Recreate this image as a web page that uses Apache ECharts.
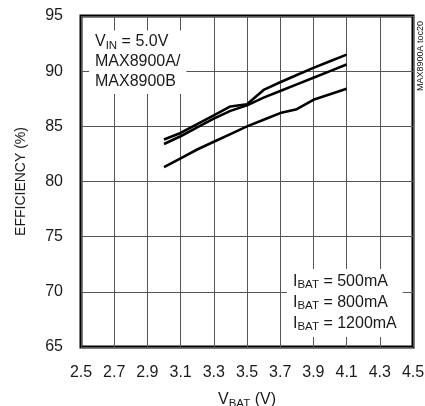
<!DOCTYPE html>
<html>
<head>
<meta charset="utf-8">
<script src="https://cdn.jsdelivr.net/npm/echarts@6/dist/echarts.min.js"></script>
<style>
  html, body { margin: 0; padding: 0; background: #fff; }
  #chart { width: 425px; height: 406px; }
</style>
</head>
<body>
<div id="chart"></div>
<script>
// battery voltage (V)
const vbat = [3.0, 3.1, 3.2, 3.3, 3.4, 3.5, 3.6, 3.7, 3.8, 3.9, 4.0, 4.1]
// efficiency (%) per charge current
const eff500 = [83.8, 84.4, 85.2, 86.0, 86.8, 87.0, 88.3, 89.0, 89.65, 90.3, 90.9, 91.5]
const eff800 = [83.4, 84.1, 84.9, 85.7, 86.4, 86.9, 87.6, 88.2, 88.8, 89.4, 90.0, 90.6]
const eff1200 = [81.3, 82.1, 82.9, 83.6, 84.3, 85.0, 85.6, 86.2, 86.55, 87.4, 87.9, 88.4]

const xTicks = { min: 2.5, max: 4.5, step: 0.2 }
const yTicks = { min: 65, max: 95, step: 5 }

const FONT = '"Liberation Sans", Arial, sans-serif'

const chart = echarts.init(document.getElementById('chart'))

const pair = (ys) => vbat.map((x, i) => [x, ys[i]])

const lineSeries = (name, ys) => ({
  name,
  type: 'line',
  data: pair(ys),
  showSymbol: false,
  symbol: 'none',
  lineStyle: { color: '#000', width: 2.6 },
  z: 3
})

const txt = (size, lh, extra) => Object.assign({
  fontSize: size, fontFamily: FONT, fontWeight: 'normal', color: '#1a1a1a', lineHeight: lh
}, extra || {})

const option = {
  backgroundColor: '#fff',
  animation: false,
  textStyle: { fontFamily: FONT },
  grid: {
    left: 81,
    right: 12,
    top: 16,
    bottom: 59,
    outerBoundsMode: 'none',
    show: true,
    borderColor: '#000',
    borderWidth: 3
  },
  title: [
    {
      left: 89,
      top: 30,
      backgroundColor: '#fff',
      padding: [2, 6, 4, 6],
      text: '{a|V}{s|IN}{a| = 5.0V}\n{a|MAX8900A/}\n{a|MAX8900B}',
      textStyle: {
        fontWeight: 'normal',
        rich: {
          a: txt(16, 20),
          s: txt(11.5, 20, { padding: [7, 0, 0, 0] })
        }
      }
    },
    {
      left: 287,
      top: 268,
      backgroundColor: '#fff',
      padding: [3, 6, 4, 6],
      text: '{a|I}{s|BAT}{a| = 500mA}\n{a|I}{s|BAT}{a| = 800mA}\n{a|I}{s|BAT}{a| = 1200mA}',
      textStyle: {
        fontWeight: 'normal',
        rich: {
          a: txt(16, 21),
          s: txt(11.5, 21, { padding: [7, 0, 0, 0] })
        }
      }
    }
  ],
  graphic: [
    {
      type: 'text',
      x: 421,
      y: 56,
      rotation: Math.PI / 2,
      style: {
        text: 'MAX8900A toc20',
        font: '9px ' + FONT,
        fill: '#111',
        align: 'center',
        verticalAlign: 'middle'
      }
    }
  ],
  xAxis: {
    type: 'value',
    min: xTicks.min,
    max: xTicks.max,
    interval: xTicks.step,
    name: '{a|V}{s|BAT}{a| (V)}',
    nameLocation: 'middle',
    nameGap: 43,
    nameTextStyle: {
      rich: {
        a: txt(16, 20),
        s: txt(11.5, 20, { padding: [7, 0, 0, 0] })
      }
    },
    axisLine: { show: false },
    axisTick: { show: false },
    axisLabel: {
      color: '#1a1a1a',
      fontSize: 16,
      fontFamily: FONT,
      margin: 18,
      formatter: (v) => v.toFixed(1)
    },
    splitLine: { show: true, lineStyle: { color: '#555', width: 1 } }
  },
  yAxis: {
    type: 'value',
    min: yTicks.min,
    max: yTicks.max,
    interval: yTicks.step,
    name: 'EFFICIENCY (%)',
    nameLocation: 'middle',
    nameGap: 53,
    nameTextStyle: { fontSize: 14, fontFamily: FONT, color: '#1a1a1a' },
    axisLine: { show: false },
    axisTick: { show: false },
    axisLabel: { color: '#1a1a1a', fontSize: 16, fontFamily: FONT, margin: 18 },
    splitLine: { show: true, lineStyle: { color: '#555', width: 1 } }
  },
  series: [
    lineSeries('IBAT = 500mA', eff500),
    lineSeries('IBAT = 800mA', eff800),
    lineSeries('IBAT = 1200mA', eff1200)
  ]
}

chart.setOption(option)
</script>
</body>
</html>
